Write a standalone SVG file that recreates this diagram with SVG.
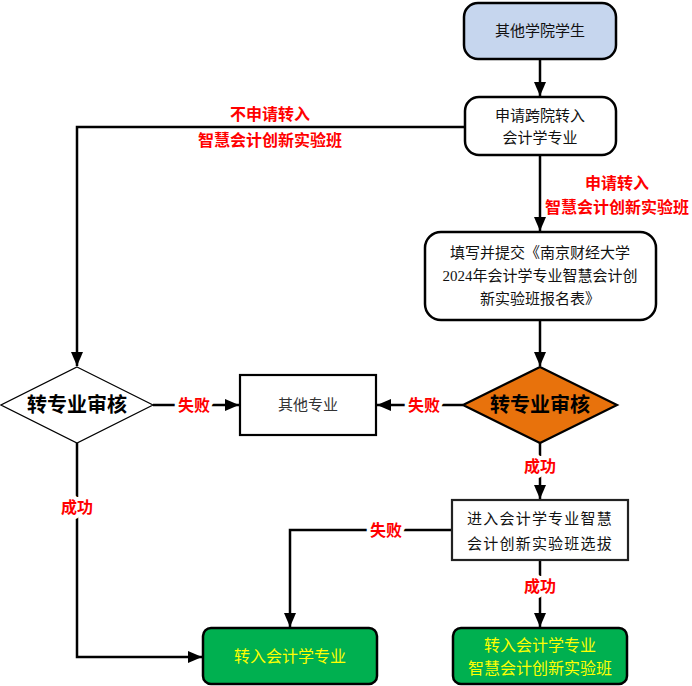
<svg xmlns="http://www.w3.org/2000/svg" width="692" height="686" viewBox="0 0 692 686">
<defs>
<marker id="arr" markerUnits="userSpaceOnUse" markerWidth="14" markerHeight="12" viewBox="0 0 14 12" refX="14" refY="6" orient="auto">
<path d="M0,0 L14,6 L0,12 Z" fill="#000"/>
</marker>
<style>
.n{font-family:"Liberation Serif","Noto Sans CJK SC",serif;font-size:15px;fill:#111;text-anchor:middle}
.d{font-family:"Noto Sans CJK SC",sans-serif;font-size:20px;font-weight:bold;fill:#000;text-anchor:middle}
.g{font-family:"Noto Sans CJK SC",sans-serif;font-size:16px;fill:#ffff00;text-anchor:middle}
.lbl{font-family:"Noto Sans CJK SC",sans-serif;font-size:16px;font-weight:bold;fill:#ff0000;text-anchor:middle;paint-order:stroke;stroke:#fff;stroke-width:8px;stroke-linejoin:round}
.free{stroke:none}
.c{fill:none;stroke:#000;stroke-width:2.5}
</style>
</defs>
<rect width="692" height="686" fill="#fff"/>
<g id="connectors">
<path class="c" d="M540,59 V96" marker-end="url(#arr)"/>
<path class="c" d="M465,127 H77 V366" marker-end="url(#arr)"/>
<path class="c" d="M540,155 V231" marker-end="url(#arr)"/>
<path class="c" d="M540,320 V366" marker-end="url(#arr)"/>
<path class="c" d="M153,405 H239" marker-end="url(#arr)"/>
<path class="c" d="M463,405 H377" marker-end="url(#arr)"/>
<path class="c" d="M540,443 V499" marker-end="url(#arr)"/>
<path class="c" d="M77,443 V657 H202" marker-end="url(#arr)"/>
<path class="c" d="M452,530 H290 V627" marker-end="url(#arr)"/>
<path class="c" d="M540,560 V627" marker-end="url(#arr)"/>
<text class="lbl free" x="270" y="120">不申请转入</text>
<text class="lbl free" x="270" y="146">智慧会计创新实验班</text>
<text class="lbl free" x="617" y="189">申请转入</text>
<text class="lbl free" x="617" y="213">智慧会计创新实验班</text>
<text class="lbl" x="194" y="411">失败</text>
<text class="lbl" x="424" y="411">失败</text>
<text class="lbl" x="540" y="472">成功</text>
<text class="lbl" x="77" y="513">成功</text>
<text class="lbl" x="386" y="536">失败</text>
<text class="lbl" x="540" y="592">成功</text>
</g>
<g id="n1">
<rect x="464" y="3" width="152" height="56" rx="14" fill="#c6d6ee" stroke="#000" stroke-width="2.5"/>
<text class="n" x="540" y="36">其他学院学生</text>
</g>
<g id="n2">
<rect x="465" y="97" width="151" height="58" rx="14" fill="#fff" stroke="#000" stroke-width="2.5"/>
<text class="n" x="540" y="121">申请跨院转入</text>
<text class="n" x="540" y="143">会计学专业</text>
</g>
<g id="n3">
<rect x="425" y="232" width="231" height="88" rx="16" fill="#fff" stroke="#000" stroke-width="2.5"/>
<text class="n" x="540" y="258" font-size="16">填写并提交《南京财经大学</text>
<text class="n" x="540" y="281" font-size="16">2024年会计学专业智慧会计创</text>
<text class="n" x="540" y="304" font-size="16">新实验班报名表》</text>
</g>
<g id="d1">
<polygon points="77,367 153,405 77,443 1,405" fill="#fff" stroke="#000" stroke-width="1.2"/>
<text class="d" x="77" y="412">转专业审核</text>
</g>
<g id="other">
<rect x="240" y="375" width="136" height="60" fill="#fff" stroke="#000" stroke-width="2.2"/>
<text class="n" x="308" y="410" style="fill:#333">其他专业</text>
</g>
<g id="d2">
<polygon points="540,367 617,405 540,443 463,405" fill="#e8720c" stroke="#000" stroke-width="2.2"/>
<text class="d" x="540" y="412">转专业审核</text>
</g>
<g id="n4">
<rect x="452" y="500" width="176" height="60" fill="#fff" stroke="#222" stroke-width="2.2"/>
<text class="n" x="540" y="524" font-size="16" letter-spacing="1.2">进入会计学专业智慧</text>
<text class="n" x="540" y="549" font-size="16" letter-spacing="1.2">会计创新实验班选拔</text>
</g>
<g id="f1">
<rect x="203" y="628" width="174" height="56" rx="8" fill="#00b050" stroke="#000" stroke-width="2.5"/>
<text class="g" x="290" y="662">转入会计学专业</text>
</g>
<g id="f2">
<rect x="453" y="628" width="174" height="56" rx="8" fill="#00b050" stroke="#000" stroke-width="2.5"/>
<text class="g" x="540" y="651">转入会计学专业</text>
<text class="g" x="540" y="674">智慧会计创新实验班</text>
</g>
</svg>
